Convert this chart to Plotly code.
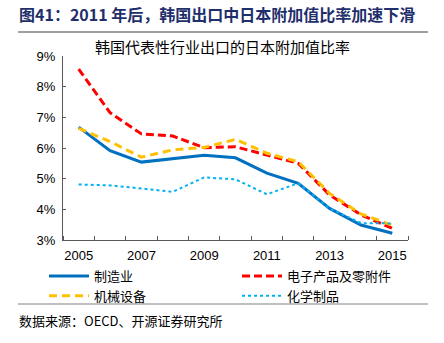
import plotly.graph_objects as go

years = list(range(2005, 2016))
manufacturing = [6.68, 5.91, 5.54, 5.64, 5.76, 5.68, 5.18, 4.85, 4.03, 3.49, 3.22]
electronics = [8.57, 7.15, 6.46, 6.39, 6.01, 6.04, 5.77, 5.50, 4.47, 3.82, 3.38]
machinery = [6.64, 6.21, 5.70, 5.94, 6.02, 6.28, 5.83, 5.55, 4.52, 3.85, 3.48]
chemicals = [4.81, 4.78, 4.68, 4.57, 5.04, 4.98, 4.49, 4.85, 4.03, 3.55, 3.54]
names = ["制造业", "电子产品及零附件", "机械设备", "化学制品"]
x_labels = [2005, 2007, 2009, 2011, 2013, 2015]
y_ticks = [3, 4, 5, 6, 7, 8, 9]

W, H = 444, 343
L, R, T, B = 63, 408, 56, 240


def xp(px):
    return (px - L) / (R - L)


def yp(py):
    return (B - py) / (B - T)


CJK = "Noto Sans CJK SC"
fig = go.Figure()
fig.add_trace(go.Scatter(x=years, y=manufacturing, name=names[0], mode="lines", legend="legend",
                         line=dict(color="#0070C0", width=3)))
fig.add_trace(go.Scatter(x=years, y=electronics, name=names[1], mode="lines", legend="legend2",
                         line=dict(color="#FF0000", width=3, dash="8px,4px")))
fig.add_trace(go.Scatter(x=years, y=machinery, name=names[2], mode="lines", legend="legend",
                         line=dict(color="#FFC000", width=3, dash="8px,5px")))
fig.add_trace(go.Scatter(x=years, y=chemicals, name=names[3], mode="lines", legend="legend2",
                         line=dict(color="#00B0F0", width=2, dash="dot")))

leg_common = dict(orientation="v", yanchor="top", xanchor="left", tracegroupgap=0,
                  font=dict(family=CJK, size=13, color="#000"), bgcolor="rgba(0,0,0,0)",
                  itemwidth=40, traceorder="normal")

fig.update_layout(
    width=W, height=H,
    margin=dict(l=L, r=W - R, t=T, b=H - B),
    paper_bgcolor="white", plot_bgcolor="white",
    font=dict(family="Liberation Sans, Arial", size=13, color="#000000"),
    showlegend=True,
    legend=dict(x=xp(44), y=yp(261), **leg_common),
    legend2=dict(x=xp(237), y=yp(261), **leg_common),
    xaxis=dict(range=[2004.5, 2015.5], tickvals=x_labels, ticktext=[str(v) for v in x_labels],
               ticks="", showgrid=False, zeroline=False, showline=True, linecolor="#595959",
               linewidth=1, tickfont=dict(size=13, family="Liberation Sans"), ticklabelstandoff=3,
               minor=dict(tickvals=[y + 0.5 for y in range(2004, 2016)], ticks="inside",
                          ticklen=4, tickcolor="#595959", showgrid=False)),
    yaxis=dict(range=[3, 9], tickvals=y_ticks, ticktext=[f"{v}%" for v in y_ticks],
               ticks="inside", ticklen=3, tickcolor="#595959", showgrid=False, zeroline=False,
               showline=True, linecolor="#595959", linewidth=1,
               tickfont=dict(size=13, family="Liberation Sans"), ticklabelstandoff=4),
)

fig.add_annotation(text="<b>图41：2011 年后，韩国出口中日本附加值比率加速下滑</b>",
                   xref="paper", yref="paper", x=xp(17), y=yp(14), xanchor="left", yanchor="middle",
                   showarrow=False, font=dict(family=CJK, size=16, color="#1F2F6B"))
fig.add_annotation(text="韩国代表性行业出口的日本附加值比率",
                   xref="paper", yref="paper", x=xp(222), y=yp(47), xanchor="center", yanchor="middle",
                   showarrow=False, font=dict(family=CJK, size=15, color="#000"))
fig.add_annotation(text="数据来源：OECD、开源证券研究所",
                   xref="paper", yref="paper", x=xp(17), y=yp(320), xanchor="left", yanchor="middle",
                   showarrow=False, font=dict(family=CJK, size=13, color="#000"))
fig.add_shape(type="line", xref="paper", yref="paper", x0=xp(18), x1=xp(428), y0=yp(32), y1=yp(32),
              line=dict(color="#A0A0A0", width=2))
fig.add_shape(type="line", xref="paper", yref="paper", x0=xp(18), x1=xp(428), y0=yp(304), y1=yp(304),
              line=dict(color="#808080", width=1))

fig.write_html("out.html")
